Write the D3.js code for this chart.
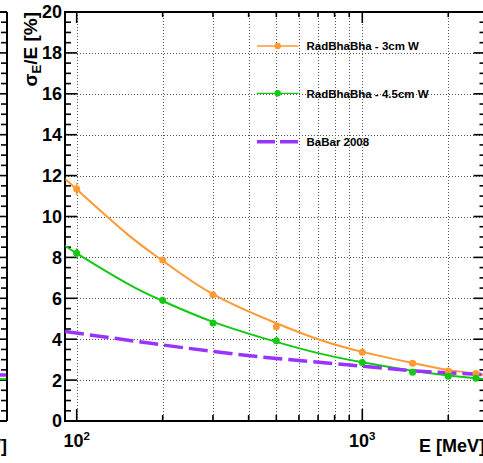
<!DOCTYPE html>
<html><head><meta charset="utf-8">
<script src="https://cdn.jsdelivr.net/npm/d3@7"></script>
<style>
body{margin:0;background:#fff}
svg{display:block}
text{font-family:"Liberation Sans",Arial,Helvetica,sans-serif;font-weight:bold;fill:#000}
</style>
</head><body>
<svg id="c" width="483" height="463"></svg>
<script>
// ---- data ----
const energies = [100, 200, 300, 500, 1000, 1500, 2000, 2500];
const rad3cm = [11.34, 7.87, 6.17, 4.61, 3.36, 2.83, 2.45, 2.32];
const rad3cmErr = [0.3, 0.15, 0.1, 0.08, 0.06, 0.05, 0.05, 0.05];
const rad45cm = [8.2, 5.9, 4.79, 3.93, 2.86, 2.38, 2.19, 2.09];
const rad45cmErr = [0.25, 0.15, 0.1, 0.08, 0.06, 0.05, 0.05, 0.05];

const fit3cmE = [91, 100, 150, 200, 300, 500, 700, 1000, 1500, 2000, 2700];
const fit3cm  = [11.82, 11.33, 9.15, 7.84, 6.2, 4.78, 4.0, 3.38, 2.84, 2.5, 2.25];
const fit45E  = [91, 100, 150, 200, 300, 500, 700, 1000, 1500, 2000, 2700];
const fit45   = [8.58, 8.2, 6.73, 5.87, 4.85, 3.87, 3.32, 2.87, 2.46, 2.23, 2.04];
const babarE  = [91, 200, 438, 903, 1500, 2700];
const babar   = [4.38, 3.72, 3.14, 2.74, 2.46, 2.27];

const neighborGreen = [2.05, 2.05]; // fragments of the neighbouring panel at the left edge
const neighborBabar = [2.25, 2.25];

const yTicksMajor = [0, 2, 4, 6, 8, 10, 12, 14, 16, 18, 20];
const xTicks = [100, 200, 300, 400, 500, 600, 700, 800, 900, 1000, 2000];
const xLabels = [{v: 100, base: "10", exp: "2"}, {v: 1000, base: "10", exp: "3"}];
const legendItems = ["RadBhaBha - 3cm W", "RadBhaBha - 4.5cm W", "BaBar 2008"];

// ---- layout ----
const L = 65, R = 485.5, T = 12, B = 421;
const orange = "#ff9933", green = "#14c814", purple = "#9933ff";
const svg = d3.select("#c");
const x = d3.scaleLog().domain([91, 2700]).range([L, R]);
const y = d3.scaleLinear().domain([0, 20]).range([B, T]);

svg.append("defs").append("clipPath").attr("id", "clip")
  .append("rect").attr("x", L).attr("y", T).attr("width", R - L).attr("height", B - T);

// grid
const grid = svg.append("g").attr("stroke", "#555").attr("stroke-width", 1).attr("stroke-dasharray", "1,2");
grid.selectAll("line.v").data(xTicks).join("line").attr("class", "v")
  .attr("x1", d => Math.round(x(d)) + 0.5).attr("x2", d => Math.round(x(d)) + 0.5).attr("y1", T).attr("y2", B);
grid.selectAll("line.h").data(yTicksMajor.filter(d => d > 0 && d < 20)).join("line").attr("class", "h")
  .attr("y1", d => Math.round(y(d)) + 0.5).attr("y2", d => Math.round(y(d)) + 0.5).attr("x1", L).attr("x2", R);

// ticks
const ticks = svg.append("g").attr("stroke", "#000").attr("stroke-width", 1.6);
const yMinor = d3.range(0, 20.01, 0.5);
ticks.selectAll("line.yl").data(yMinor).join("line").attr("class", "yl")
  .attr("x1", L).attr("x2", d => L + (d % 2 === 0 ? 12 : 6)).attr("y1", d => y(d)).attr("y2", d => y(d));
ticks.selectAll("line.yr").data(yMinor).join("line").attr("class", "yr")
  .attr("x1", R).attr("x2", d => R - (d % 2 === 0 ? 12 : 6)).attr("y1", d => y(d)).attr("y2", d => y(d));
const isMajor = d => d === 100 || d === 1000;
ticks.selectAll("line.xb").data(xTicks).join("line").attr("class", "xb")
  .attr("x1", d => x(d)).attr("x2", d => x(d)).attr("y1", B).attr("y2", d => B - (isMajor(d) ? 12 : 6));
ticks.selectAll("line.xt").data(xTicks).join("line").attr("class", "xt")
  .attr("x1", d => x(d)).attr("x2", d => x(d)).attr("y1", T).attr("y2", d => T + (isMajor(d) ? 11 : 5));

// neighbouring panel fragment (left edge)
const NR = 7;
ticks.selectAll("line.nb").data(yMinor).join("line").attr("class", "nb")
  .attr("x1", NR).attr("x2", d => NR - (d % 2 === 0 ? 12 : 6)).attr("y1", d => y(d)).attr("y2", d => y(d));
svg.append("line").attr("x1", NR).attr("x2", NR).attr("y1", T).attr("y2", B).attr("stroke", "#000").attr("stroke-width", 2);
svg.append("line").attr("x1", -5).attr("x2", NR).attr("y1", B).attr("y2", B).attr("stroke", "#000").attr("stroke-width", 2);
svg.append("line").attr("x1", -5).attr("x2", NR).attr("y1", T).attr("y2", T).attr("stroke", "#000").attr("stroke-width", 2);
svg.append("line").attr("x1", 0).attr("x2", NR - 1).attr("y1", y(neighborBabar[0])).attr("y2", y(neighborBabar[1]))
  .attr("stroke", purple).attr("stroke-width", 3.5);
svg.append("line").attr("x1", 0).attr("x2", NR - 1).attr("y1", y(neighborGreen[0])).attr("y2", y(neighborGreen[1]))
  .attr("stroke", green).attr("stroke-width", 2);
svg.append("text").attr("x", NR).attr("y", 452).attr("text-anchor", "end").attr("font-size", 18).text("E [MeV]");

// frame
svg.append("rect").attr("x", L).attr("y", T).attr("width", R - L).attr("height", B - T)
  .attr("fill", "none").attr("stroke", "#000").attr("stroke-width", 2);

// curves
const plot = svg.append("g").attr("clip-path", "url(#clip)");
const line = d3.line().x(d => x(d[0])).y(d => y(d[1])).curve(d3.curveNatural);
plot.append("path").attr("d", line(d3.zip(fit3cmE, fit3cm))).attr("fill", "none").attr("stroke", orange).attr("stroke-width", 2);
plot.append("path").attr("d", line(d3.zip(fit45E, fit45))).attr("fill", "none").attr("stroke", green).attr("stroke-width", 2);
plot.append("path").attr("d", line(d3.zip(babarE, babar))).attr("fill", "none").attr("stroke", purple)
  .attr("stroke-width", 3.5).attr("stroke-dasharray", "19,6");

// points
function drawPoints(vals, errs, col) {
  const g = plot.append("g");
  const pts = d3.zip(energies, vals, errs);
  g.selectAll("line").data(pts).join("line")
    .attr("x1", d => x(d[0])).attr("x2", d => x(d[0]))
    .attr("y1", d => y(d[1] - d[2])).attr("y2", d => y(d[1] + d[2]))
    .attr("stroke", col).attr("stroke-width", 1.5);
  g.selectAll("circle").data(pts).join("circle")
    .attr("cx", d => x(d[0])).attr("cy", d => y(d[1])).attr("r", 3.5).attr("fill", col);
}
drawPoints(rad3cm, rad3cmErr, orange);
drawPoints(rad45cm, rad45cmErr, green);

// axis labels
svg.append("g").selectAll("text").data(yTicksMajor).join("text")
  .attr("x", 62).attr("y", d => y(d)).attr("dy", "0.36em").attr("text-anchor", "end")
  .attr("font-size", 18).text(d => d);
const xl = svg.append("g").selectAll("text").data(xLabels).join("text")
  .attr("x", d => x(d.v)).attr("y", 446.5).attr("text-anchor", "middle").attr("font-size", 18);
xl.append("tspan").text(d => d.base);
xl.append("tspan").attr("dy", -7).attr("font-size", 11.5).text(d => d.exp);

svg.append("text").attr("x", 419).attr("y", 452).attr("font-size", 18).text("E [MeV]");

const yt = svg.append("text").attr("transform", "translate(36.5,12) rotate(-90)")
  .attr("text-anchor", "end").attr("font-size", 19);
yt.append("tspan").text("σ");
yt.append("tspan").attr("dy", 4).attr("font-size", 13).text("E");
yt.append("tspan").attr("dy", -4).text("/E [%]");

// legend
const legY = [46, 93.3, 141.7];
const legCol = [orange, green, purple];
const lg = svg.append("g");
legendItems.forEach((t, i) => {
  const l = lg.append("line").attr("x1", 257).attr("x2", 298.5).attr("y1", legY[i]).attr("y2", legY[i])
    .attr("stroke", legCol[i]).attr("stroke-width", i === 2 ? 3.5 : 1.3);
  if (i === 2) l.attr("stroke-dasharray", "18,5");
  else lg.append("circle").attr("cx", 277.7).attr("cy", legY[i]).attr("r", 3.2).attr("fill", legCol[i]);
  lg.append("text").attr("x", 306.5).attr("y", legY[i] + 4.3).attr("font-size", 11.5).attr("fill", "#111").text(t);
});
</script>
</body></html>
